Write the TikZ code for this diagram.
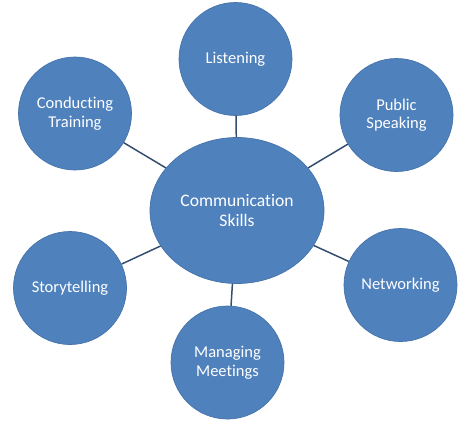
\documentclass[tikz,border=0pt]{standalone}
\usepackage{fontspec}
\setmainfont{Carlito}[Ligatures=NoCommon]
\usetikzlibrary{shapes.geometric, positioning}
\definecolor{skillfill}{RGB}{79,129,189}
\definecolor{skilledge}{RGB}{70,115,170}
\definecolor{linkgray}{RGB}{52,78,110}
\tikzset{
  % Central topic
  hub/.style={
    ellipse, minimum width=3.48cm, minimum height=2.92cm,
    fill=skillfill, draw=skilledge, line width=0.4pt,
    text=white, font=\fontsize{10}{11.5}\selectfont, align=center,
    inner sep=0pt
  },
  % Surrounding skill
  skill/.style={
    circle, minimum size=2.26cm,
    fill=skillfill, draw=skilledge, line width=0.4pt,
    text=white, font=\fontsize{9.4}{10.6}\selectfont, align=center,
    inner sep=0pt
  },
  % Connector
  link/.style={
    draw=linkgray, line width=0.85pt
  },
}
\begin{document}
\begin{tikzpicture}

\useasboundingbox (-4.74,-4.21) rectangle (4.74,4.21);

%% -- CENTRE ------------------------------------------------------------
\node[hub] (comm) at (0,0) {Communication\\Skills};

%% -- SKILLS ------------------------------------------------------------
\node[skill] (listen)   at (-0.03, 3.03) {Listening};
\node[skill] (public)   at ( 3.19, 1.91) {Public\\Speaking};
\node[skill] (network)  at ( 3.27,-1.49) {Networking};
\node[skill] (meetings) at (-0.19,-3.04) {Managing\\Meetings};
\node[skill] (story)    at (-3.34,-1.55) {Storytelling};
\node[skill] (training) at (-3.24, 1.94) {Conducting\\Training};

%% -- LINKS -------------------------------------------------------------
\foreach \s in {listen, public, network, meetings, story, training}
  \draw[link] (comm) -- (\s);

\end{tikzpicture}
\end{document}
